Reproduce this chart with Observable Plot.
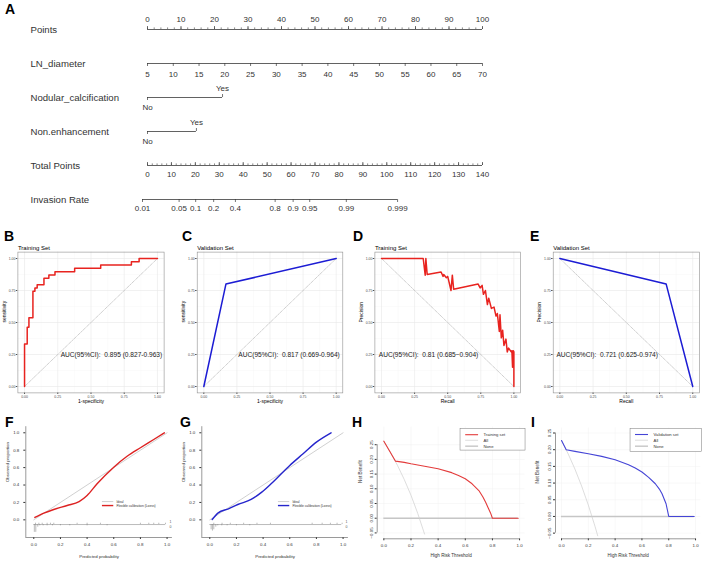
<!DOCTYPE html>
<html>
<head>
<meta charset="utf-8">
<title>Nomogram and model evaluation</title>
<script src="https://cdn.jsdelivr.net/npm/d3@7"></script>
<script src="https://cdn.jsdelivr.net/npm/@observablehq/plot@0.6"></script>
<style>
  html, body { margin: 0; padding: 0; background: #fff; }
  #fig { position: relative; width: 704px; height: 562px; overflow: hidden; background: #fff; }
  .tag { position: absolute; font: bold 14px "Liberation Sans", Arial, sans-serif; line-height: 12px; height: 12px; color: #000; }
</style>
</head>
<body>
<div id="fig"></div>
<script>
// ---------- Panel A: nomogram ----------
const nomoRows = ["Points", "LN_diameter", "Nodular_calcification", "Non.enhancement", "Total Points", "Invasion Rate"];
const pointsLabels = [0, 10, 20, 30, 40, 50, 60, 70, 80, 90, 100];
const diameterLabels = [5, 10, 15, 20, 25, 30, 35, 40, 45, 50, 55, 60, 65, 70];
const calcLevels = ["No", "Yes"];
const calcPoints = [0, 22.4];
const enhLevels = ["No", "Yes"];
const enhPoints = [0, 14.6];
const totalLabels = [0, 10, 20, 30, 40, 50, 60, 70, 80, 90, 100, 110, 120, 130, 140];
const riskLabels = [0.01, 0.05, 0.1, 0.2, 0.4, 0.8, 0.9, 0.95, 0.99, 0.999];
const totalMax = 140;
const lpIntercept = -4.37;   // linear predictor at 0 total points
const lpSlope = 0.1079;      // linear predictor per total point

// ---------- Panels B, C: ROC curves ----------
const rocTrainFpr = [0, 0, 0.02, 0.033, 0.063, 0.078, 0.095, 0.146, 0.183, 0.229, 0.377, 0.573, 0.804, 0.862, 1];
const rocTrainTpr = [0, 0.333, 0.462, 0.538, 0.744, 0.769, 0.795, 0.846, 0.872, 0.897, 0.923, 0.949, 0.974, 1, 1];
const rocValidFpr = [0, 0.167, 1];
const rocValidTpr = [0, 0.8, 1];

// ---------- Panels D, E: precision-recall curves ----------
const prTrainRecall = [0, 0.315, 0.33, 0.335, 0.345, 0.45, 0.465, 0.47, 0.49, 0.5, 0.525, 0.535, 0.545, 0.73, 0.745, 0.76, 0.77, 0.785, 0.8, 0.81, 0.83, 0.85, 0.865, 0.875, 0.89, 0.895, 0.905, 0.915, 0.925, 0.94, 0.95, 0.96, 0.98, 0.985, 0.99, 0.995, 1, 1];
const prTrainPrecision = [1, 1, 0.87, 1, 0.875, 0.895, 0.86, 0.875, 0.85, 0.86, 0.75, 0.87, 0.76, 0.8, 0.77, 0.79, 0.72, 0.75, 0.64, 0.69, 0.61, 0.62, 0.55, 0.57, 0.43, 0.56, 0.38, 0.44, 0.32, 0.37, 0.27, 0.3, 0.27, 0.28, 0.15, 0.28, 0.27, 0];
const prValidRecall = [0, 0.8, 1];
const prValidPrecision = [1, 0.8, 0];

const aucLabels = [
  "AUC(95%CI):  0.895 (0.827-0.963)",
  "AUC(95%CI):  0.817 (0.669-0.964)",
  "AUC(95%CI):  0.81 (0.685\u22120.904)",
  "AUC(95%CI):  0.721 (0.625-0.974)"
];

// ---------- Panels F, G: calibration ----------
const calTrainPred = [0.008, 0.075, 0.15, 0.25, 0.34, 0.4, 0.475, 0.6, 0.7, 0.8, 0.9, 0.98];
const calTrainObs = [0.027, 0.077, 0.119, 0.165, 0.21, 0.28, 0.414, 0.605, 0.73, 0.828, 0.923, 1.0];
const calValidPred = [0.018, 0.063, 0.14, 0.21, 0.31, 0.39, 0.46, 0.6, 0.7, 0.8, 0.91];
const calValidObs = [0.004, 0.08, 0.126, 0.176, 0.234, 0.318, 0.414, 0.625, 0.759, 0.893, 1.0];
const trainEventPred = [0.013, 0.038, 0.063, 0.1, 0.125, 0.15, 0.325, 0.4, 0.5, 0.8, 0.863, 0.9, 0.938, 0.988];
const trainNonEventPred = [0.004, 0.015, 0.03, 0.045, 0.07, 0.1, 0.14, 0.2, 0.27, 0.4, 0.55];
const trainNonEventCount = [6, 6, 2, 1, 1, 1, 1, 1, 1, 1, 1];
const validEventPred = [0.03, 0.092, 0.154, 0.254, 0.354, 0.455, 0.768, 0.843, 0.905, 0.955, 0.993];
const validNonEventPred = [0.01, 0.02, 0.03, 0.045, 0.06, 0.09, 0.13, 0.2, 0.3];
const validNonEventCount = [4, 5, 4, 2, 1, 1, 1, 1, 1];
const calLegend = ["Ideal", "Flexible calibration (Loess)"];

// ---------- Panels H, I: decision curves ----------
const dcaTrainThr = [0, 0.086, 0.15, 0.2, 0.3, 0.4, 0.5, 0.55, 0.6, 0.65, 0.7, 0.73, 0.75, 0.77, 0.786, 0.8, 0.99];
const dcaTrainNB = [0.262, 0.194, 0.19, 0.185, 0.177, 0.168, 0.155, 0.145, 0.134, 0.117, 0.094, 0.072, 0.054, 0.034, 0.018, 0, 0];
const dcaTrainAllThr = [0, 0.05, 0.1, 0.15, 0.2, 0.25, 0.3];
const dcaTrainAllNB = [0.262, 0.223, 0.18, 0.132, 0.078, 0.016, -0.054];
const dcaValidThr = [0, 0.035, 0.1, 0.2, 0.3, 0.4, 0.5, 0.55, 0.6, 0.65, 0.7, 0.73, 0.75, 0.78, 0.8, 0.99];
const dcaValidNB = [0.2275, 0.2, 0.195, 0.188, 0.18, 0.17, 0.155, 0.145, 0.133, 0.117, 0.098, 0.082, 0.068, 0.038, 0, 0];
const dcaValidAllThr = [0, 0.05, 0.1, 0.15, 0.2, 0.25, 0.27];
const dcaValidAllNB = [0.2275, 0.187, 0.142, 0.091, 0.034, -0.03, -0.058];
const dcaLegendTrain = ["Training set", "All", "None"];
const dcaLegendValid = ["Validation set", "All", "None"];

// ---------- helpers ----------
const fontFamily = '"Liberation Sans", Arial, Helvetica, sans-serif';
const fig = document.getElementById("fig");
const css = (size, color) => `background:none;overflow:visible;font-family:${fontFamily};font-size:${size}px;color:${color};`;
const pairs = (xs, ys) => xs.map((x, i) => ({x, y: ys[i]}));
function place(node, left, top) {
  node.style.position = "absolute";
  node.style.left = left + "px";
  node.style.top = top + "px";
  fig.appendChild(node);
}

// ---------- nomogram ----------
const lnToPoints = d => (d - diameterLabels[0]) / (diameterLabels[diameterLabels.length - 1] - diameterLabels[0]) * 100;
const totalToPoints = t => t / totalMax * 100;
const riskToPoints = p => totalToPoints((Math.log(p / (1 - p)) - lpIntercept) / lpSlope);

const axisSpans = [
  {row: "Points", x1: 0, x2: 100},
  {row: "LN_diameter", x1: lnToPoints(diameterLabels[0]), x2: lnToPoints(diameterLabels[diameterLabels.length - 1])},
  {row: "Nodular_calcification", x1: calcPoints[0], x2: calcPoints[1]},
  {row: "Non.enhancement", x1: enhPoints[0], x2: enhPoints[1]},
  {row: "Total Points", x1: 0, x2: totalToPoints(totalMax)},
  {row: "Invasion Rate", x1: riskToPoints(riskLabels[0]), x2: riskToPoints(riskLabels[riskLabels.length - 1])}
];
const majorUp = [
  ...pointsLabels.map(v => ({row: "Points", x: v})),
  ...totalLabels.map(v => ({row: "Total Points", x: totalToPoints(v)})),
  {row: "Nodular_calcification", x: calcPoints[1]},
  {row: "Non.enhancement", x: enhPoints[1]}
];
const minorUp = [
  ...d3.range(0, 101, 2).map(v => ({row: "Points", x: v})),
  ...d3.range(0, totalMax + 1, 2).map(v => ({row: "Total Points", x: totalToPoints(v)}))
];
const majorDown = [
  ...diameterLabels.map(v => ({row: "LN_diameter", x: lnToPoints(v)})),
  ...riskLabels.map(v => ({row: "Invasion Rate", x: riskToPoints(v)})),
  {row: "Nodular_calcification", x: calcPoints[0]},
  {row: "Non.enhancement", x: enhPoints[0]}
];
const nomoInk = "#3a3a3a";
const nomo = Plot.plot({
  width: 704, height: 220,
  marginLeft: 147, marginRight: 222, marginTop: 0, marginBottom: 0,
  style: css(8, "#333"),
  x: {domain: [0, 100], axis: null},
  y: {type: "point", domain: nomoRows, range: [28, 200], padding: 0, axis: null},
  marks: [
    Plot.ruleY(axisSpans, {y: "row", x1: "x1", x2: "x2", stroke: nomoInk, strokeWidth: 0.8}),
    Plot.ruleX(minorUp, {x: "x", y1: "row", y2: "row", insetTop: -1.6, stroke: nomoInk, strokeWidth: 0.6}),
    Plot.ruleX(majorUp, {x: "x", y1: "row", y2: "row", insetTop: -3, stroke: nomoInk, strokeWidth: 0.7}),
    Plot.ruleX(majorDown, {x: "x", y1: "row", y2: "row", insetBottom: -3, stroke: nomoInk, strokeWidth: 0.7}),
    Plot.text(nomoRows, {y: d => d, frameAnchor: "left", dx: -117, textAnchor: "start", fontSize: 9.6, fill: "#333"}),
    Plot.text(pointsLabels, {x: d => d, y: () => "Points", dy: -10, text: d => String(d), fill: "#333"}),
    Plot.text(diameterLabels, {x: lnToPoints, y: () => "LN_diameter", dy: 10.7, text: d => String(d), fill: "#333"}),
    Plot.text(calcLevels, {x: (d, i) => calcPoints[i], y: () => "Nodular_calcification", fill: "#333", filter: (d, i) => i === 1, dy: -9}),
    Plot.text(calcLevels, {x: (d, i) => calcPoints[i], y: () => "Nodular_calcification", fill: "#333", filter: (d, i) => i === 0, dy: 10}),
    Plot.text(enhLevels, {x: (d, i) => enhPoints[i], y: () => "Non.enhancement", fill: "#333", filter: (d, i) => i === 1, dy: -9.5}),
    Plot.text(enhLevels, {x: (d, i) => enhPoints[i], y: () => "Non.enhancement", fill: "#333", filter: (d, i) => i === 0, dy: 10}),
    Plot.text(totalLabels, {x: totalToPoints, y: () => "Total Points", dy: 9.4, text: d => String(d), fill: "#333"}),
    Plot.text(riskLabels, {x: riskToPoints, y: () => "Invasion Rate", dy: 9.4, text: d => String(d), fill: "#333"})
  ]
});
place(nomo, 0, 0);

// ---------- ggplot-style ROC / PR panels ----------
const ggBreaks = [0, 0.25, 0.5, 0.75, 1];
const ggMinor = [0.125, 0.375, 0.625, 0.875];
function ggPanel(cfg) {
  const svg = Plot.plot({
    width: 176, height: 185,
    marginLeft: cfg.mL, marginRight: cfg.mR, marginTop: 26.6, marginBottom: 17.6,
    style: css(3.5, "#4d4d4d"),
    x: {domain: [-0.05, 1.05], ticks: ggBreaks, tickFormat: ".2f", tickSize: 1.6, tickPadding: 0.8, label: null},
    y: {domain: [-0.05, 1.05], ticks: ggBreaks, tickFormat: ".2f", tickSize: 1.6, tickPadding: 0.8, label: null},
    marks: [
      Plot.ruleX(ggMinor, {stroke: "#f4f4f4", strokeWidth: 0.4}),
      Plot.ruleY(ggMinor, {stroke: "#f4f4f4", strokeWidth: 0.4}),
      Plot.ruleX(ggBreaks, {stroke: "#e8e8e8", strokeWidth: 0.6}),
      Plot.ruleY(ggBreaks, {stroke: "#e8e8e8", strokeWidth: 0.6}),
      Plot.line(cfg.reference, {x: "x", y: "y", stroke: "#a0a0a0", strokeWidth: 0.5, strokeDasharray: "3,1.2,0.8,1.2"}),
      Plot.line(cfg.curve, {x: "x", y: "y", stroke: cfg.color, strokeWidth: 1.5, curve: cfg.step ? "step-after" : "linear", strokeLinejoin: "round"}),
      Plot.text([cfg.auc], {x: () => cfg.aucX, y: () => 0.245, fontSize: 6.6, fill: "#1a1a1a"}),
      Plot.frame({stroke: "#8f8f8f", strokeWidth: 0.6}),
      Plot.text([cfg.title], {frameAnchor: "top-left", textAnchor: "start", dy: -6.5, fontSize: 6, fill: "#000"}),
      Plot.text([cfg.xLabel], {frameAnchor: "bottom", dy: 10.4, fontSize: 5, fill: "#000"}),
      Plot.text([cfg.yLabel], {frameAnchor: "left", dx: -13.6, rotate: -90, fontSize: 5, fill: "#000"})
    ]
  });
  place(svg, cfg.left, 225);
}
const rocDiagonal = pairs([0, 1], [0, 1]);
const prDiagonal = pairs([0, 1], [1, 0]);
ggPanel({left: 0, mL: 17.4, mR: 12.4, curve: pairs(rocTrainFpr, rocTrainTpr), step: true, color: "#e8231f",
  reference: rocDiagonal, title: "Training Set", xLabel: "1-specificity", yLabel: "sensitivity", auc: aucLabels[0], aucX: 0.654});
ggPanel({left: 176, mL: 20.7, mR: 9.7, curve: pairs(rocValidFpr, rocValidTpr), color: "#1c1cd4",
  reference: rocDiagonal, title: "Validation Set", xLabel: "1-specificity", yLabel: "sensitivity", auc: aucLabels[1], aucX: 0.644});
ggPanel({left: 352, mL: 22.4, mR: 8, curve: pairs(prTrainRecall, prTrainPrecision), color: "#e8231f",
  reference: prDiagonal, title: "Training Set", xLabel: "Recall", yLabel: "Precision", auc: aucLabels[2], aucX: 0.355});
ggPanel({left: 528, mL: 24.7, mR: 5.1, curve: pairs(prValidRecall, prValidPrecision), color: "#1c1cd4",
  reference: prDiagonal, title: "Validation Set", xLabel: "Recall", yLabel: "Precision", auc: aucLabels[3], aucX: 0.356});

// ---------- calibration panels ----------
const calBreaks = [0, 0.2, 0.4, 0.6, 0.8, 1];
const calX = [-0.06, 1.04];
const calY = [-0.203, 1.07];
const spikeBase = -0.054;
const spikeUnit = 0.015;
const idealLine = pairs([0, 1], [0, 1]);
function calPanel(cfg) {
  const svg = Plot.plot({
    width: 176, height: 142,
    marginLeft: 25.3, marginRight: 4.1, marginTop: 6.2, marginBottom: 25,
    style: css(4.4, "#333"),
    x: {domain: calX, ticks: calBreaks, tickFormat: ".1f", tickSize: 2, tickPadding: 3, label: null},
    y: {domain: calY, ticks: calBreaks, tickFormat: ".1f", tickSize: 2, tickPadding: 4.5, label: null},
    marks: [
      Plot.ruleX([calX[0]], {stroke: "#555", strokeWidth: 0.6}),
      Plot.ruleY([calY[0]], {stroke: "#555", strokeWidth: 0.6}),
      Plot.line(idealLine, {x: "x", y: "y", stroke: "#c4c4c4", strokeWidth: 0.8}),
      Plot.line(cfg.curve, {x: "x", y: "y", stroke: cfg.color, strokeWidth: 1.4, curve: "monotone-x"}),
      Plot.ruleY([spikeBase], {x1: () => 0, x2: () => 0.99, stroke: "#777", strokeWidth: 0.5}),
      Plot.ruleX(cfg.events, {x: d => d, y1: () => spikeBase, y2: () => spikeBase + spikeUnit, stroke: "#777", strokeWidth: 0.5}),
      Plot.ruleX(cfg.nonEvents, {x: d => d, y1: () => spikeBase, y2: (d, i) => spikeBase - cfg.nonEventCount[i] * spikeUnit, stroke: "#777", strokeWidth: 0.5}),
      Plot.text(["1", "0"], {x: () => 1.025, y: (d, i) => i === 0 ? spikeBase + 0.03 : spikeBase - 0.03, fontSize: 3.5, fill: "#555"}),
      Plot.ruleY([calLegend[0]], {y: () => 0.21, x1: () => 0.515, x2: () => 0.6, stroke: "#c4c4c4", strokeWidth: 0.8}),
      Plot.ruleY([calLegend[1]], {y: () => 0.164, x1: () => 0.515, x2: () => 0.6, stroke: cfg.color, strokeWidth: 1.4}),
      Plot.text(calLegend, {x: () => 0.62, y: (d, i) => i === 0 ? 0.21 : 0.164, textAnchor: "start", fontSize: 3.3, fill: "#333"}),
      Plot.text(["Predicted probability"], {frameAnchor: "bottom", dy: 20, fontSize: 4.4, fill: "#333"}),
      Plot.text(["Observed proportion"], {frameAnchor: "left", dx: -18.6, rotate: -90, fontSize: 4.4, fill: "#333"})
    ]
  });
  place(svg, cfg.left, 420);
}
calPanel({left: 0, curve: pairs(calTrainPred, calTrainObs), color: "#dd2222",
  events: trainEventPred, nonEvents: trainNonEventPred, nonEventCount: trainNonEventCount});
calPanel({left: 176.2, curve: pairs(calValidPred, calValidObs), color: "#2525cc",
  events: validEventPred, nonEvents: validNonEventPred, nonEventCount: validNonEventCount});

// ---------- decision curve panels ----------
const dcaXBreaks = [0, 0.2, 0.4, 0.6, 0.8, 1];
const dcaYBreaks = [-0.05, 0, 0.05, 0.1, 0.15, 0.2, 0.25];
function dcaPanel(cfg) {
  const lg = cfg.legend;
  const svg = Plot.plot({
    width: cfg.width, height: 142,
    marginLeft: cfg.mL, marginRight: cfg.mR, marginTop: cfg.mT, marginBottom: 23.7,
    style: css(4.4, "#333"),
    x: {domain: cfg.xDomain, ticks: dcaXBreaks, tickFormat: ".1f", tickSize: 2, tickPadding: 3, label: null},
    y: {domain: cfg.yDomain, ticks: dcaYBreaks, tickFormat: ".2f", tickSize: 2, tickPadding: 2.5, tickRotate: -90, label: null},
    marks: [
      Plot.ruleX(dcaXBreaks, {stroke: "#f0f0f0", strokeWidth: 0.5}),
      Plot.ruleY(dcaYBreaks, {stroke: "#f0f0f0", strokeWidth: 0.5}),
      Plot.ruleY([cfg.yDomain[0]], {x1: () => 0, x2: () => 1, stroke: "#555", strokeWidth: 0.6}),
      Plot.ruleX([cfg.xDomain[0]], {y1: () => -0.05, y2: () => 0.25, stroke: "#555", strokeWidth: 0.6}),
      Plot.ruleY([0], {x1: () => 0, x2: () => 0.99, stroke: "#c6c6c6", strokeWidth: 1.4}),
      Plot.line(cfg.all, {x: "x", y: "y", stroke: "#cfcfcf", strokeWidth: 0.7}),
      Plot.line(cfg.model, {x: "x", y: "y", stroke: cfg.color, strokeWidth: 1.1}),
      Plot.rect([lg.box], {x1: "x1", x2: "x2", y1: "y1", y2: "y2", fill: "white", stroke: "#777", strokeWidth: 0.5}),
      Plot.ruleY([cfg.labels[0]], {y: () => lg.rows[0], x1: () => lg.line[0], x2: () => lg.line[1], stroke: cfg.color, strokeWidth: 1.1}),
      Plot.ruleY([cfg.labels[1]], {y: () => lg.rows[1], x1: () => lg.line[0], x2: () => lg.line[1], stroke: "#cfcfcf", strokeWidth: 0.7}),
      Plot.ruleY([cfg.labels[2]], {y: () => lg.rows[2], x1: () => lg.line[0], x2: () => lg.line[1], stroke: "#c6c6c6", strokeWidth: 1.4}),
      Plot.text(cfg.labels, {x: () => lg.text, y: (d, i) => lg.rows[i], textAnchor: "start", fontSize: 4.2, fill: "#333"}),
      Plot.text(["High Risk Threshold"], {frameAnchor: "bottom", dy: 18.5, fontSize: 4.6, fill: "#333"}),
      Plot.text(["Net Benefit"], {frameAnchor: "left", dx: cfg.yTitleDx, rotate: -90, fontSize: 4.6, fill: "#333"})
    ]
  });
  place(svg, cfg.left, 420);
}
dcaPanel({left: 350, width: 176, mL: 26.7, mR: 1.5, mT: 6.56, xDomain: [-0.049, 1.04], yDomain: [-0.07, 0.31],
  model: pairs(dcaTrainThr, dcaTrainNB), all: pairs(dcaTrainAllThr, dcaTrainAllNB), color: "#e33b3b",
  labels: dcaLegendTrain, yTitleDx: -16.7,
  legend: {box: {x1: 0.565, x2: 1.044, y1: 0.304, y2: 0.23}, rows: [0.284, 0.265, 0.245], line: [0.603, 0.698], text: 0.734}});
dcaPanel({left: 525, width: 179, mL: 30, mR: 3.6, mT: 7.5, xDomain: [-0.045, 1.04], yDomain: [-0.067, 0.265],
  model: pairs(dcaValidThr, dcaValidNB), all: pairs(dcaValidAllThr, dcaValidAllNB), color: "#4545d6",
  labels: dcaLegendValid, yTitleDx: -18.3,
  legend: {box: {x1: 0.515, x2: 1.05, y1: 0.2626, y2: 0.1925}, rows: [0.2455, 0.2284, 0.2105], line: [0.552, 0.649], text: 0.687}});

// ---------- panel letters ----------
const panelTags = [["A", 5, 3], ["B", 4, 230], ["C", 182, 230], ["D", 353, 230], ["E", 530, 230],
                   ["F", 5, 416], ["G", 180, 416], ["H", 352, 416], ["I", 531, 416]];
for (const [t, left, top] of panelTags) {
  const el = document.createElement("div");
  el.className = "tag";
  el.textContent = t;
  el.style.left = left + "px";
  el.style.top = top + "px";
  fig.appendChild(el);
}
</script>
</body>
</html>
